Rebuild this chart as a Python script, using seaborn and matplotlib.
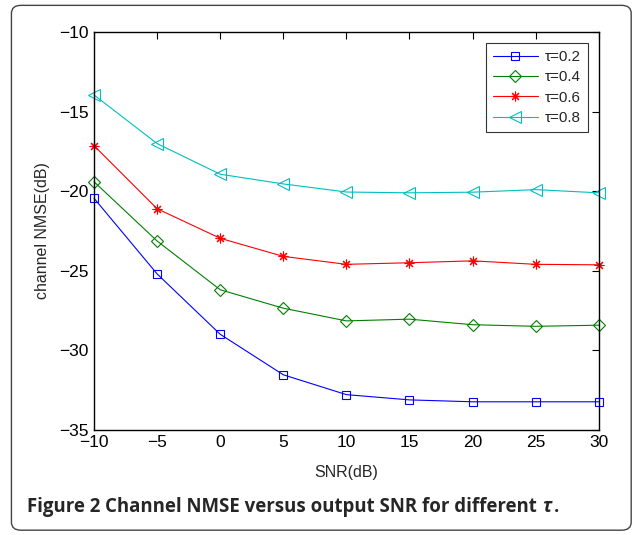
import matplotlib
matplotlib.use("Agg")
import matplotlib.pyplot as plt
from matplotlib.patches import FancyBboxPatch
import seaborn as sns
import pandas as pd

snr = [-10, -5, 0, 5, 10, 15, 20, 25, 30]
tau_labels = ["τ=0.2", "τ=0.4", "τ=0.6", "τ=0.8"]
nmse_02 = [-20.44, -25.2, -29.0, -31.55, -32.8, -33.13, -33.25, -33.25, -33.25]
nmse_04 = [-19.4, -23.13, -26.2, -27.36, -28.16, -28.05, -28.4, -28.5, -28.43]
nmse_06 = [-17.13, -21.1, -22.96, -24.1, -24.6, -24.5, -24.38, -24.6, -24.63]
nmse_08 = [-13.94, -17.0, -18.93, -19.54, -20.05, -20.1, -20.06, -19.9, -20.1]
x_ticks = [-10, -5, 0, 5, 10, 15, 20, 25, 30]
y_ticks = [-35, -30, -25, -20, -15, -10]

series = [nmse_02, nmse_04, nmse_06, nmse_08]
df = pd.concat([pd.DataFrame({"SNR": snr, "NMSE": s, "tau": lab})
                for s, lab in zip(series, tau_labels)], ignore_index=True)

sns.set_style("white")
plt.rcParams["font.family"] = ["Liberation Sans", "DejaVu Sans"]

fig = plt.figure(figsize=(6.35, 5.35), dpi=100)
ax = fig.add_axes([0.148, 0.197, 0.795, 0.7426])

colors = {"τ=0.2": (0, 0, 1), "τ=0.4": (0, 0.5, 0), "τ=0.6": (1, 0, 0), "τ=0.8": (0, 0.75, 0.75)}
markers = {"τ=0.2": "s", "τ=0.4": "D", "τ=0.6": (8, 2, 0), "τ=0.8": "<"}
sizes = {"τ=0.2": 6, "τ=0.4": 6, "τ=0.6": 7, "τ=0.8": 8}

for lab in tau_labels:
    sub = df[df["tau"] == lab]
    c = colors[lab]
    sns.lineplot(data=sub, x="SNR", y="NMSE", ax=ax, color=c, lw=0.8,
                 marker=markers[lab], markersize=sizes[lab],
                 markerfacecolor="none", markeredgecolor=c, markeredgewidth=0.8,
                 label=lab, clip_on=False)

ax.set_xlim(-10, 30)
ax.set_ylim(-35, -10)
ax.set_xticks(x_ticks)
ax.set_yticks(y_ticks)
ax.set_xticklabels([str(t).replace("-", "−") for t in x_ticks])
ax.set_yticklabels([str(t).replace("-", "−") for t in y_ticks])
ax.tick_params(direction="in", length=5, width=0.8, top=True, right=True,
               labelsize=12.5, colors="black", pad=4)
for sp in ax.spines.values():
    sp.set_color("black")
    sp.set_linewidth(1.0)
ax.set_xlabel("SNR(dB)", fontsize=11.5, labelpad=11)
ax.set_ylabel("channel NMSE(dB)", fontsize=11.5, labelpad=6)

leg = ax.legend(loc="upper right", fontsize=11, frameon=True, fancybox=False,
                edgecolor="black", handlelength=2.9, borderpad=0.45,
                labelspacing=0.42, handletextpad=0.5, borderaxespad=0.7)
leg.get_frame().set_linewidth(0.8)

frame = FancyBboxPatch((0.018, 0.009), 0.976, 0.981, transform=fig.transFigure,
                       boxstyle="round,pad=0,rounding_size=0.015",
                       facecolor="none", edgecolor="#444444", lw=1.0)
fig.patches.append(frame)

# caption, pieces placed one after another
cap_family = ["Open Sans", "DejaVu Sans"]
pieces = [("Figure 2 ", "bold", "normal"),
          ("Channel NMSE versus output SNR for different ", "bold", "normal"),
          ("τ", "bold", "italic"),
          (".", "bold", "normal")]
fig.canvas.draw()
renderer = fig.canvas.get_renderer()
x_px = 27
for txt, w, st in pieces:
    t = fig.text(x_px / 635, 1 - 507 / 535, txt, fontsize=13.4, fontweight=w,
                 fontstyle=st, family=cap_family, va="center", ha="left")
    bb = t.get_window_extent(renderer=renderer)
    x_px = bb.x1 + (3 if st == "italic" else 0)

fig.savefig("out.png", dpi=100)
